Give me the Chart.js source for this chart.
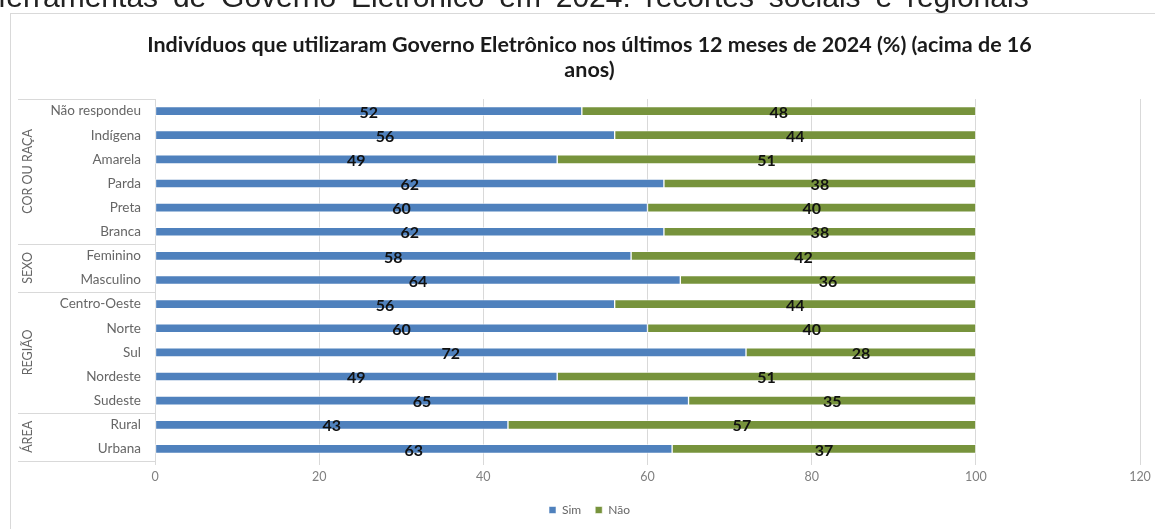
<!DOCTYPE html>
<html>
<head>
<meta charset="utf-8">
<script src="https://cdn.jsdelivr.net/npm/chart.js@4.4.1/dist/chart.umd.min.js"></script>
<style>
html,body{margin:0;padding:0;background:#fff;width:1155px;height:529px;overflow:hidden;position:relative;}
#heading{position:absolute;left:-2px;top:-18px;font-family:"Liberation Sans",Arial,sans-serif;font-size:30px;line-height:30px;color:#222;white-space:nowrap;word-spacing:6.5px;}
#frame{position:absolute;left:10px;top:13px;width:1200px;height:600px;border:1px solid #d9d9d9;box-sizing:border-box;}
#wrap{position:absolute;left:0;top:0;width:1155px;height:529px;}
</style>
</head>
<body>
<div id="frame"></div>
<div id="wrap"><canvas id="chart" width="1155" height="529"></canvas></div>
<div id="heading">ferramentas de Governo Eletrônico em 2024: recortes sociais e regionais</div>
<script>
// ---- data ----
const categories = ['Não respondeu','Indígena','Amarela','Parda','Preta','Branca','Feminino','Masculino','Centro-Oeste','Norte','Sul','Nordeste','Sudeste','Rural','Urbana'];
const simValues = [52,56,49,62,60,62,58,64,56,60,72,49,65,43,63];
const naoValues = [48,44,51,38,40,38,42,36,44,40,28,51,35,57,37];
const groupNames = ['COR OU RAÇA','SEXO','REGIÃO','ÁREA'];
const groupSizes = [6,2,5,2];
const xTicks = [0,20,40,60,80,100,120];
const titleLines = ['Indivíduos que utilizaram Governo Eletrônico nos últimos 12 meses de 2024 (%) (acima de 16','anos)'];

const FONT = 'Lato';

const valueLabels = {
  id:'valueLabels',
  afterDatasetsDraw(chart){
    const ctx = chart.ctx;
    ctx.save();
    ctx.font = 'bold 16px ' + FONT;
    ctx.fillStyle = '#111';
    ctx.textAlign = 'center';
    ctx.textBaseline = 'middle';
    chart.data.datasets.forEach((ds,di)=>{
      const meta = chart.getDatasetMeta(di);
      meta.data.forEach((el,i)=>{
        const cx = (el.x + el.base)/2;
        ctx.fillText(String(ds.data[i]), cx, el.y + 1.5);
      });
    });
    ctx.restore();
  }
};

const groupAxis = {
  id:'groupAxis',
  afterDraw(chart){
    const ctx = chart.ctx;
    const y = chart.scales.y;
    const area = chart.chartArea;
    const x0 = 18, x1 = area.left;
    ctx.save();
    ctx.strokeStyle = '#d9d9d9';
    ctx.lineWidth = 1;
    let start = 0;
    const bounds = [area.top];
    groupSizes.forEach(n=>{
      const end = start + n - 1;
      let by;
      if (end === categories.length - 1) by = area.bottom;
      else by = (y.getPixelForTick(end) + y.getPixelForTick(end+1))/2;
      bounds.push(by);
      start += n;
    });
    bounds.forEach(b=>{
      const yy = Math.round(b) + 0.5;
      ctx.beginPath(); ctx.moveTo(x0, yy); ctx.lineTo(x1, yy); ctx.stroke();
    });
    ctx.fillStyle = '#666';
    ctx.font = '12.5px ' + FONT;
    ctx.textAlign = 'center';
    ctx.textBaseline = 'middle';
    groupNames.forEach((g,i)=>{
      const cy = (bounds[i] + bounds[i+1])/2;
      ctx.save();
      ctx.translate(28, cy);
      ctx.rotate(-Math.PI/2);
      ctx.fillText(g, 0, 0);
      ctx.restore();
    });
    ctx.restore();
  }
};

new Chart(document.getElementById('chart'), {
  type:'bar',
  data:{
    labels: categories,
    datasets:[
      {label:'Sim', data: simValues, backgroundColor:'#4f81bd', borderColor:'rgba(255,255,255,0.55)', borderWidth:1, borderSkipped:false, barThickness:9},
      {label:'Não', data: naoValues, backgroundColor:'#77933c', borderColor:'rgba(255,255,255,0.55)', borderWidth:1, borderSkipped:false, barThickness:9}
    ]
  },
  options:{
    indexAxis:'y',
    responsive:false,
    animation:false,
    devicePixelRatio:1,
    layout:{padding:{left:39,right:15,top:30,bottom:3}},
    scales:{
      x:{
        stacked:true, min:0, max:120,
        afterBuildTicks(scale){ scale.ticks = xTicks.map(v=>({value:v})); },
        grid:{color:'#d9d9d9', tickLength:4, drawTicks:true},
        border:{display:false},
        ticks:{font:{family:FONT,size:12.5}, color:'#808080', padding:4, maxRotation:0},
        afterFit(scale){ scale.height = 29; }
      },
      y:{
        stacked:true,
        grid:{display:false, drawTicks:false},
        border:{display:true, color:'#d9d9d9'},
        ticks:{font:{family:FONT,size:13.5}, color:'#666', padding:14, autoSkip:false},
        afterFit(scale){ scale.width = 116; }
      }
    },
    plugins:{
      title:{display:true, text:titleLines, font:{family:FONT, size:21.5, weight:'bold', lineHeight:'25px'}, color:'#1a1a1a', padding:{top:2.5,bottom:16.5}},
      legend:{position:'bottom', labels:{boxWidth:7, boxHeight:7, padding:14, font:{family:FONT,size:12}, color:'#666'}},
      tooltip:{enabled:false}
    }
  },
  plugins:[valueLabels, groupAxis]
});
</script>
</body>
</html>
